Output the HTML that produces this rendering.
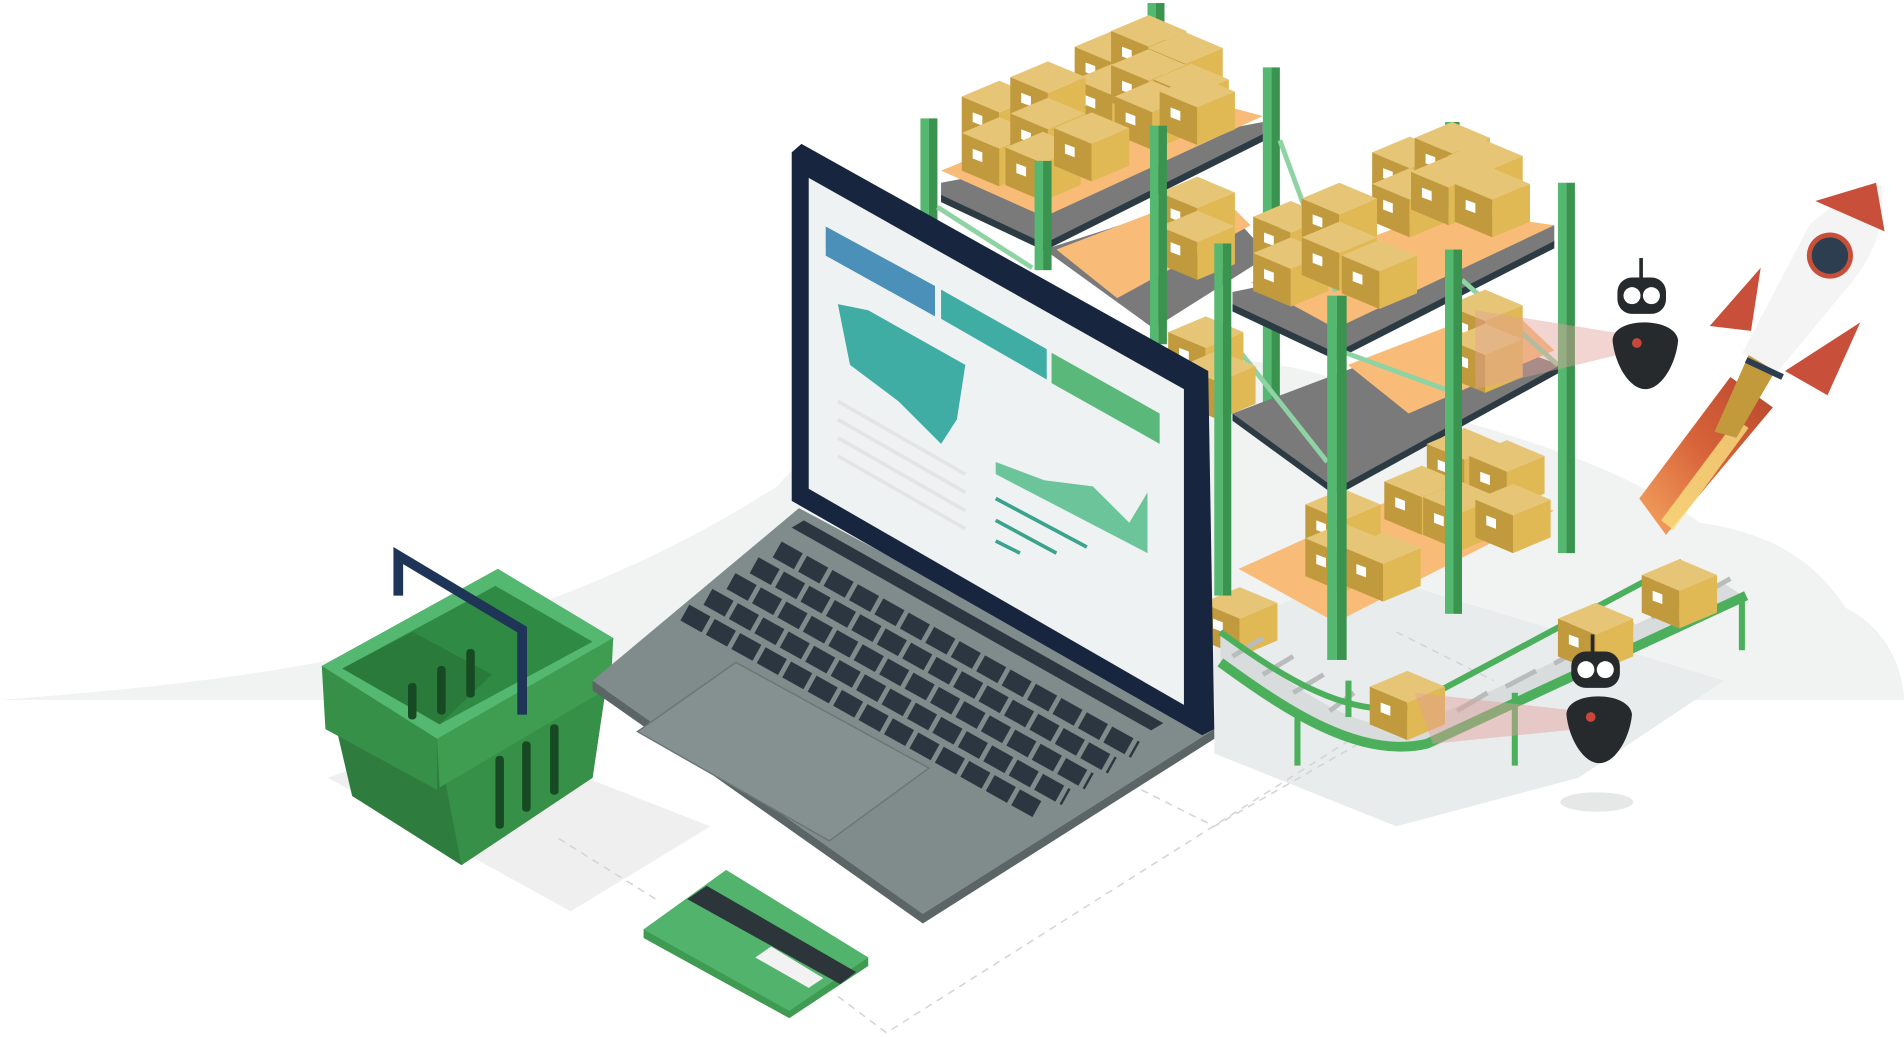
<!DOCTYPE html>
<html><head><meta charset="utf-8"><style>
html,body{margin:0;padding:0;background:#fff;width:1904px;height:1037px;overflow:hidden}
svg{display:block}
</style></head><body>
<svg width="1904" height="1037" viewBox="0 0 1568 853" xmlns="http://www.w3.org/2000/svg">
<defs>
<g id="bx">
<path d="M0,13 L31,0 L62,13 L31,26 Z" fill="#e6c676"/>
<path d="M0,13 L31,26 L31,57 L0,44 Z" fill="#c19a3e"/>
<path d="M31,26 L62,13 L62,44 L31,57 Z" fill="#e0b955"/>
<path d="M9,26 L17,29 L17,37 L9,34 Z" fill="#fff"/>
</g>
<linearGradient id="fl" x1="0" y1="1" x2="1" y2="0"><stop offset="0" stop-color="#f5a560"/><stop offset="0.5" stop-color="#d8643a"/><stop offset="1" stop-color="#b8452e"/></linearGradient>
</defs>
<path d="M0,576 C200,560 420,540 640,400 C700,330 800,300 900,310 C1000,280 1080,300 1150,330 C1250,360 1330,380 1400,430 C1470,440 1500,470 1520,500 C1560,520 1568,560 1568,576 Z" fill="#f1f3f3"/>
<path d="M1000,520 L1120,470 L1420,560 L1300,640 L1150,680 L1000,620 Z" fill="#e9ecec"/>
<path d="M270,640 L380,600 L585,680 L470,750 Z" fill="#efefef"/>
<ellipse cx="1315" cy="660" rx="30" ry="8" fill="#e6e8e8"/>
<g stroke="#d3d6d7" stroke-dasharray="6,5" fill="none" stroke-width="1.3">
<path d="M460,690 L540,740"/><path d="M690,820 L730,850 L1110,610"/><path d="M940,650 L1000,680 L1140,600"/><path d="M1150,520 L1230,560"/>
</g>
<g>
<rect x="758" y="97" width="7" height="180" fill="#55b870"/><rect x="765" y="97" width="7" height="180" fill="#3a9450"/>
<rect x="1040" y="55" width="7" height="300" fill="#55b870"/><rect x="1047" y="55" width="7" height="300" fill="#3a9450"/>
<rect x="1190" y="100" width="6" height="150" fill="#55b870"/><rect x="1196" y="100" width="6" height="150" fill="#3a9450"/>
<rect x="945" y="2" width="7" height="60" fill="#55b870"/><rect x="952" y="2" width="7" height="60" fill="#3a9450"/>
</g>
<g fill="#7a7a7a">
<path d="M775,150 L1040,100 L1040,112 L860,200 L775,162 Z"/>
<path d="M860,205 L1000,160 L1045,210 L950,270 Z"/>
<path d="M1015,240 L1280,185 L1280,200 L1100,290 L1015,252 Z"/>
<path d="M1015,340 L1200,270 L1285,300 L1100,405 Z"/>
</g>
<g fill="#2c3a44"><path d="M775,160 L860,200 L1040,110 L1040,116 L860,206 L775,166 Z"/><path d="M1015,250 L1100,290 L1280,198 L1280,204 L1100,296 L1015,256 Z"/><path d="M1015,340 L1100,402 L1285,300 L1285,306 L1100,408 L1015,346 Z"/></g>
<g fill="#f9bc78">
<path d="M775,140 L945,70 L1040,95 L860,178 Z"/>
<path d="M870,205 L1000,155 L1030,185 L920,245 Z"/>
<path d="M1030,232 L1190,172 L1280,185 L1100,270 Z"/>
<path d="M1110,300 L1240,250 L1280,288 L1160,340 Z"/>
<path d="M1020,468 L1170,400 L1280,420 L1100,512 Z"/>
</g>
<g stroke="#8fd3a4" stroke-width="4"><path d="M772,170 L850,220"/><path d="M1054,115 L1100,240"/><path d="M1014,280 L1093,380"/><path d="M1108,290 L1190,320"/><path d="M1204,230 L1283,300"/></g>
<use href="#bx" x="885" y="25"/><use href="#bx" x="915" y="12"/><use href="#bx" x="945" y="26"/>
<use href="#bx" x="885" y="52"/><use href="#bx" x="915" y="40"/><use href="#bx" x="950" y="52"/>
<use href="#bx" x="918" y="66"/><use href="#bx" x="955" y="62"/>
<use href="#bx" x="792" y="66"/><use href="#bx" x="832" y="50"/>
<use href="#bx" x="792" y="96"/><use href="#bx" x="832" y="80"/><use href="#bx" x="828" y="108"/><use href="#bx" x="868" y="92"/>
<use href="#bx" x="955" y="145"/><use href="#bx" x="955" y="173"/>
<use href="#bx" x="1130" y="112"/><use href="#bx" x="1165" y="100"/><use href="#bx" x="1192" y="115"/>
<use href="#bx" x="1130" y="138"/><use href="#bx" x="1162" y="128"/><use href="#bx" x="1198" y="138"/>
<use href="#bx" x="1032" y="165"/><use href="#bx" x="1072" y="150"/><use href="#bx" x="1032" y="195"/><use href="#bx" x="1072" y="182"/><use href="#bx" x="1105" y="197"/>
<use href="#bx" x="1192" y="238"/><use href="#bx" x="1192" y="266"/>
<use href="#bx" x="962" y="260"/><use href="#bx" x="972" y="288"/>
<use href="#bx" x="1175" y="352"/><use href="#bx" x="1210" y="362"/>
<use href="#bx" x="1140" y="383"/><use href="#bx" x="1172" y="396"/><use href="#bx" x="1215" y="398"/>
<use href="#bx" x="1075" y="402"/><use href="#bx" x="1075" y="430"/><use href="#bx" x="1108" y="438"/>
<use href="#bx" x="990" y="483"/>
<g>
<rect x="852" y="132" width="7" height="90" fill="#55b870"/><rect x="859" y="132" width="7" height="90" fill="#3a9450"/>
<rect x="947" y="103" width="7" height="180" fill="#55b870"/><rect x="954" y="103" width="7" height="180" fill="#3a9450"/>
<rect x="1000" y="200" width="7" height="290" fill="#55b870"/><rect x="1007" y="200" width="7" height="290" fill="#3a9450"/>
<rect x="1093" y="243" width="8" height="300" fill="#55b870"/><rect x="1101" y="243" width="8" height="300" fill="#3a9450"/>
<rect x="1190" y="205" width="7" height="300" fill="#55b870"/><rect x="1197" y="205" width="7" height="300" fill="#3a9450"/>
<rect x="1283" y="150" width="7" height="305" fill="#55b870"/><rect x="1290" y="150" width="7" height="305" fill="#3a9450"/>
</g>
<path d="M1005,520 C1060,560 1120,610 1170,595 L1420,480 L1438,492 L1180,615 C1120,630 1060,590 1005,550 Z" fill="#d9dcdd"/>
<g stroke="#b9bcbd" stroke-width="4"><path d="M1015,540 L1040,525"/><path d="M1040,555 L1065,540"/><path d="M1065,570 L1090,555"/><path d="M1095,585 L1115,570"/><path d="M1200,585 L1225,570"/><path d="M1240,565 L1265,552"/><path d="M1280,546 L1305,532"/><path d="M1320,527 L1345,512"/><path d="M1360,508 L1385,494"/><path d="M1400,490 L1425,476"/></g>
<path d="M1005,545 C1060,585 1120,625 1175,612 L1438,490" fill="none" stroke="#4caf5b" stroke-width="8"/>
<path d="M1005,520 C1060,560 1110,590 1160,582 L1385,462" fill="none" stroke="#4caf5b" stroke-width="5"/>
<g fill="#4caf5b"><rect x="1066" y="590" width="5" height="40"/><rect x="1245" y="570" width="5" height="60"/><rect x="1432" y="490" width="5" height="45"/><rect x="1108" y="560" width="5" height="30"/></g>
<use href="#bx" x="1128" y="552"/>
<use href="#bx" x="1352" y="460"/>
<use href="#bx" x="1283" y="496"/>
<path d="M1215,255 L1340,275 L1340,290 L1215,320 Z" fill="#e3a09a" opacity="0.45"/>
<path d="M1165,570 L1300,585 L1300,600 L1180,612 Z" fill="#e3a09a" opacity="0.45"/>
<g fill="#262a2c">
<rect x="1350" y="212" width="3" height="18"/><rect x="1332" y="228" width="40" height="30" rx="12"/>
<path d="M1328,280 C1328,260 1380,260 1382,280 C1380,300 1368,320 1355,320 C1342,320 1330,300 1328,280 Z"/>
<rect x="1310" y="522" width="3" height="16"/><rect x="1294" y="536" width="40" height="30" rx="12"/>
<path d="M1290,588 C1290,568 1342,568 1344,588 C1342,608 1330,628 1317,628 C1304,628 1292,608 1290,588 Z"/>
</g>
<g fill="#fff"><circle cx="1344" cy="243" r="7"/><circle cx="1360" cy="243" r="7"/><circle cx="1306" cy="551" r="7"/><circle cx="1322" cy="551" r="7"/></g>
<circle cx="1348" cy="282" r="4" fill="#c8473a"/><circle cx="1310" cy="590" r="4" fill="#c8473a"/>
<path d="M1350,410 L1425,310 L1460,335 L1372,440 Z" fill="url(#fl)"/>
<path d="M1368,428 L1430,345 L1440,352 L1378,436 Z" fill="#f8e080" opacity="0.8"/>
<path d="M1435,290 L1490,185 C1515,162 1538,152 1550,152 C1552,185 1545,205 1528,228 L1462,308 Z" fill="#f4f4f4"/>
<path d="M1495,165 L1545,150 L1552,190 Z" fill="#c8503a"/>
<path d="M1408,268 L1450,220 L1442,272 Z" fill="#c8503a"/>
<path d="M1470,305 L1532,265 L1505,325 Z" fill="#c8503a"/>
<path d="M1440,292 L1462,305 L1430,360 L1412,355 Z" fill="#c29a3c"/>
<path d="M1438,296 L1468,310" stroke="#2c3e50" stroke-width="5"/>
<circle cx="1507" cy="210" r="19" fill="#c8503a"/><circle cx="1507" cy="210" r="15" fill="#2c3e50"/>
<path d="M265,548 L410,468 L505,525 L488,640 L380,712 L290,655 Z" fill="#2e7d3e"/>
<path d="M360,608 L505,525 L488,640 L380,712 Z" fill="#379048"/>
<path d="M265,548 L410,468 L505,525 L360,608 Z" fill="#55b870"/>
<path d="M282,550 L408,482 L488,528 L362,596 Z" fill="#2f8a44"/>
<path d="M282,550 L340,520 L405,555 L362,596 Z" fill="#297a3b"/>
<path d="M265,548 L360,608 L360,650 L268,600 Z" fill="#379048"/>
<path d="M360,608 L505,525 L503,565 L362,648 Z" fill="#3e9d50"/>
<g fill="#174a22"><rect x="408" y="622" width="7" height="60" rx="3"/><rect x="430" y="610" width="7" height="58" rx="3"/><rect x="453" y="596" width="7" height="58" rx="3"/><rect x="336" y="562" width="7" height="30" rx="3"/><rect x="360" y="548" width="7" height="40" rx="3"/><rect x="384" y="534" width="7" height="40" rx="3"/></g>
<path d="M328,490 L328,457 L430,518 L430,588" fill="none" stroke="#1e3558" stroke-width="8"/>
<path d="M530,765 L598,716 L715,788 L715,795 L650,838 L530,772 Z" fill="#3f9a52"/>
<path d="M530,765 L598,716 L715,788 L650,832 Z" fill="#52b36d"/>
<path d="M566,740 L582,729 L705,800 L692,810 Z" fill="#2b353a"/>
<path d="M622,788 L635,779 L678,805 L666,813 Z" fill="#f2f2f2"/>
<path d="M488,560 L658,418 L1000,600 L760,752 Z" fill="#808b8c"/>
<path d="M488,560 L760,752 L1000,600 L1000,608 L760,760 L488,568 Z" fill="#5c6566"/>
<path d="M652,434 L662,428 L958,595 L948,601 Z" fill="#2c3640"/>
<g stroke="#2c3640" stroke-width="15" stroke-dasharray="20,4" fill="none">
<path d="M640,452 L935,617"/>
<path d="M621,465 L916,630"/>
<path d="M602,478 L897,643"/>
<path d="M583,491 L878,656"/>
<path d="M564,504 L856,667"/>
</g>
<path d="M525,602 L606,545 L765,632 L683,692 Z" fill="#859091" stroke="#6c7677" stroke-width="1.2"/>
<path d="M652,125 L660,118 L995,305 L1000,600 L990,605 L652,412 Z" fill="#17263e"/>
<path d="M666,146 L975,320 L975,580 L666,402 Z" fill="#eef2f3"/>
<path d="M680,186 L770,235 L770,260 L680,210 Z" fill="#4a90b8"/>
<path d="M775,238 L862,287 L862,312 L775,262 Z" fill="#40ada5"/>
<path d="M866,290 L955,340 L955,365 L866,315 Z" fill="#5ab87a"/>
<path d="M690,250 L715,255 L795,300 L788,345 L775,365 L740,330 L700,300 Z" fill="#40ada5"/>
<g stroke="#e2e4e5" stroke-width="3"><path d="M690,330 L795,390"/><path d="M690,345 L795,405"/><path d="M690,360 L795,420"/><path d="M690,375 L795,435"/></g>
<path d="M820,380 L860,395 L900,400 L930,430 L945,405 L945,455 L820,390 Z" fill="#6cc49a"/>
<g stroke="#3aa38e" stroke-width="3"><path d="M820,410 L895,450"/><path d="M820,428 L870,455"/><path d="M820,445 L840,455"/></g>
</svg>
</body></html>
